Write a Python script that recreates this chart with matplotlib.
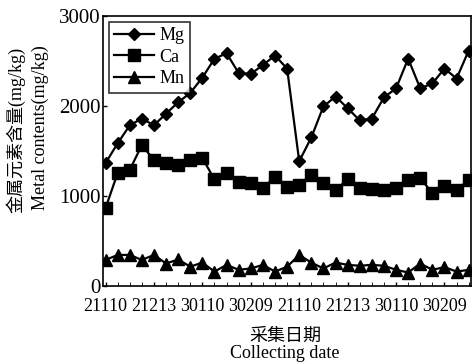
import matplotlib
matplotlib.use("Agg")
import matplotlib.pyplot as plt
import numpy as np

plt.rcParams['font.family'] = ['Liberation Serif', 'Noto Sans CJK SC']

# 31 sampling campaigns; label every 4th
tick_labels = ['21110', '21213', '30110', '30209', '21110', '21213', '30110', '30209']

mg = [1370, 1590, 1790, 1865, 1790, 1920, 2045, 2150, 2320, 2530, 2590,
      2370, 2360, 2460, 2565, 2420, 1390, 1655, 2000, 2110, 1980, 1845,
      1865, 2100, 2200, 2530, 2200, 2255, 2420, 2310, 2620]
ca = [870, 1260, 1295, 1570, 1405, 1370, 1350, 1405, 1425, 1190, 1260,
      1165, 1145, 1090, 1220, 1100, 1130, 1240, 1145, 1070, 1190, 1090,
      1080, 1070, 1090, 1185, 1200, 1040, 1115, 1070, 1185]
mn = [295, 350, 350, 295, 350, 255, 300, 220, 265, 165, 240, 185, 200,
      240, 165, 220, 350, 265, 200, 265, 240, 230, 240, 230, 185, 155,
      255, 185, 215, 165, 185]

x = np.arange(len(mg))

fig = plt.figure(figsize=(4.73, 3.64), dpi=100)
ax = fig.add_axes([0.218, 0.213, 0.778, 0.742])

ax.plot(x, mg, '-D', color='black', lw=1.6, ms=6.5, label='Mg')
ax.plot(x, ca, '-s', color='black', lw=1.6, ms=9, label='Ca')
ax.plot(x, mn, '-^', color='black', lw=1.6, ms=8, label='Mn')

ax.set_xlim(-0.2, 30.2)
ax.set_ylim(0, 3000)
ax.set_yticks([0, 1000, 2000, 3000])
ax.set_xticks(x[::4])
ax.set_xticklabels(tick_labels)
ax.set_xticks(x, minor=True)
ax.tick_params(axis='both', direction='in', labelsize=13, length=3, width=1)
ax.tick_params(axis='x', which='minor', direction='in', length=3)
ax.tick_params(axis='x', pad=8)
ax.tick_params(axis='y', labelsize=15, pad=2)
for s in ax.spines.values():
    s.set_linewidth(1.2)

leg = ax.legend(loc='upper left', fontsize=13, handlelength=2.2, frameon=True,
                fancybox=False, edgecolor='black', borderpad=0.3,
                labelspacing=0.25, handletextpad=0.3, borderaxespad=0.3)
leg.get_frame().set_linewidth(1.2)

fig.text(0.603, 0.076, '采集日期', fontsize=13, ha='center', va='center')
fig.text(0.603, 0.030, 'Collecting date', fontsize=13, ha='center', va='center')
fig.text(0.034, 0.643, '金属元素含量(mg/kg)', rotation=90, fontsize=13,
         ha='center', va='center')
fig.text(0.086, 0.65, 'Metal contents(mg/kg)', rotation=90, fontsize=13,
         ha='center', va='center')

fig.savefig('out.png', dpi=100)
